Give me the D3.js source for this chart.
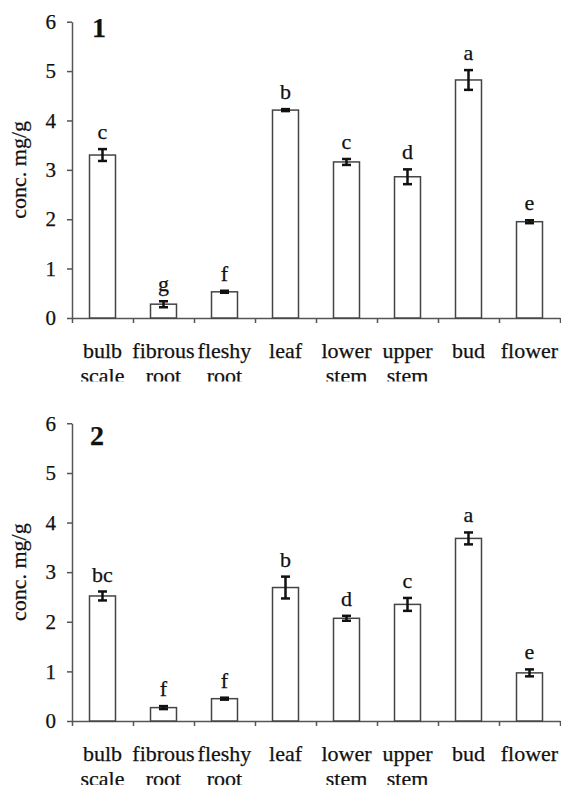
<!DOCTYPE html>
<html>
<head>
<meta charset="utf-8">
<script src="https://cdn.jsdelivr.net/npm/d3@7"></script>
<style>
  html, body { margin: 0; padding: 0; background: #fff; }
  svg { display: block; }
  text { font-family: "Liberation Serif", "Times New Roman", serif; fill: #111; stroke: #111; stroke-width: 0.25px; }
</style>
</head>
<body>
<svg id="chart" width="561" height="785"></svg>
<script>
// ---- data ----
const categories = ["bulb scale", "fibrous root", "fleshy root", "leaf", "lower stem", "upper stem", "bud", "flower"];
const labelLine1 = ["bulb", "fibrous", "fleshy", "leaf", "lower", "upper", "bud", "flower"];
const labelLine2 = ["scale", "root", "root", "", "stem", "stem", "", ""];
const yTicks = [0, 1, 2, 3, 4, 5, 6];

const panel1Values = [3.30, 0.28, 0.53, 4.21, 3.16, 2.86, 4.82, 1.95];
const panel1Errors = [0.12, 0.06, 0.02, 0.02, 0.06, 0.15, 0.20, 0.03];
const panel1Letters = ["c", "g", "f", "b", "c", "d", "a", "e"];

const panel2Values = [2.52, 0.27, 0.45, 2.69, 2.07, 2.35, 3.68, 0.97];
const panel2Errors = [0.09, 0.03, 0.02, 0.22, 0.05, 0.13, 0.12, 0.07];
const panel2Letters = ["bc", "f", "f", "b", "d", "c", "a", "e"];

const panelTitles = ["1", "2"];
const yLabel = "conc. mg/g";

// ---- layout ----
const svg = d3.select("#chart");
const left = 72, right = 560;

const x = d3.scaleBand().domain(categories).range([left, right])
  .paddingInner(0.574).paddingOuter(0.287);
const xBoundary = d3.scaleLinear().domain([0, categories.length]).range([left, right]);

const panels = [
  { title: panelTitles[0], values: panel1Values, errors: panel1Errors, letters: panel1Letters,
    y0: 318, y6: 21.7, clipBottom: 381.5, titleDx: 92, titleDy: 15 },
  { title: panelTitles[1], values: panel2Values, errors: panel2Errors, letters: panel2Letters,
    y0: 721, y6: 423.3, clipBottom: 785, titleDx: 90, titleDy: 21.5 }
];

const defs = svg.append("defs");

panels.forEach((p, pi) => {
  const y = d3.scaleLinear().domain([0, 6]).range([p.y0, p.y6]);

  defs.append("clipPath").attr("id", "clip" + pi)
    .append("rect").attr("x", 0).attr("y", p.y6 - 25).attr("width", 561)
    .attr("height", p.clipBottom - (p.y6 - 25));

  const g = svg.append("g").attr("clip-path", `url(#clip${pi})`);

  // y axis
  const yAxis = d3.axisLeft(y).tickValues(yTicks).tickFormat(d3.format("d"))
    .tickSize(5).tickSizeOuter(0).tickPadding(11);
  const ya = g.append("g").attr("transform", `translate(${left},0)`).call(yAxis);
  ya.select(".domain").attr("stroke", "#555").attr("stroke-width", 1.5);
  ya.selectAll(".tick line").attr("stroke", "#555").attr("stroke-width", 1.5);
  ya.selectAll(".tick text").style("font-size", "21px").attr("fill", "#111")
    .style("font-family", "'Liberation Serif', serif");

  // x axis (boundary ticks)
  const xAxis = d3.axisBottom(xBoundary).tickValues(d3.range(0, categories.length + 1))
    .tickFormat("").tickSize(5).tickSizeOuter(0);
  const xa = g.append("g").attr("transform", `translate(0,${p.y0})`).call(xAxis);
  xa.select(".domain").attr("stroke", "#555").attr("stroke-width", 1.5);
  xa.selectAll(".tick line").attr("stroke", "#555").attr("stroke-width", 1.5);

  // category labels
  const lab = g.append("g");
  categories.forEach((c, i) => {
    const cx = x(c) + x.bandwidth() / 2;
    lab.append("text").attr("x", cx).attr("y", p.y0 + 40)
      .attr("text-anchor", "middle").style("font-size", "22px").text(labelLine1[i]);
    if (labelLine2[i]) {
      lab.append("text").attr("x", cx).attr("y", p.y0 + 64.5)
        .attr("text-anchor", "middle").style("font-size", "22px").text(labelLine2[i]);
    }
  });

  // bars
  g.append("g").selectAll("rect").data(categories).join("rect")
    .attr("x", d => x(d))
    .attr("y", (d, i) => y(p.values[i]))
    .attr("width", x.bandwidth())
    .attr("height", (d, i) => y(0) - y(p.values[i]))
    .attr("fill", "#fff").attr("stroke", "#444").attr("stroke-width", 1.5);

  // error bars
  const eb = g.append("g").attr("stroke", "#111").attr("stroke-width", 2.5);
  categories.forEach((c, i) => {
    const cx = x(c) + x.bandwidth() / 2;
    const hi = y(p.values[i] + p.errors[i]);
    const lo = y(p.values[i] - p.errors[i]);
    eb.append("line").attr("x1", cx).attr("x2", cx).attr("y1", hi).attr("y2", lo);
    eb.append("line").attr("x1", cx - 4.5).attr("x2", cx + 4.5).attr("y1", hi).attr("y2", hi);
    eb.append("line").attr("x1", cx - 4.5).attr("x2", cx + 4.5).attr("y1", lo).attr("y2", lo);
  });

  // significance letters
  g.append("g").selectAll("text").data(categories).join("text")
    .attr("x", d => x(d) + x.bandwidth() / 2)
    .attr("y", (d, i) => y(p.values[i] + p.errors[i]) - 10)
    .attr("text-anchor", "middle").style("font-size", "22px")
    .text((d, i) => p.letters[i]);

  // panel title
  g.append("text").attr("x", p.titleDx).attr("y", p.y6 + p.titleDy)
    .style("font-size", "28px").style("font-weight", "bold").text(p.title);

  // y label
  g.append("text")
    .attr("transform", `translate(26,${y(3)}) rotate(-90)`)
    .attr("text-anchor", "middle").style("font-size", "22px").text(yLabel);
});
</script>
</body>
</html>
